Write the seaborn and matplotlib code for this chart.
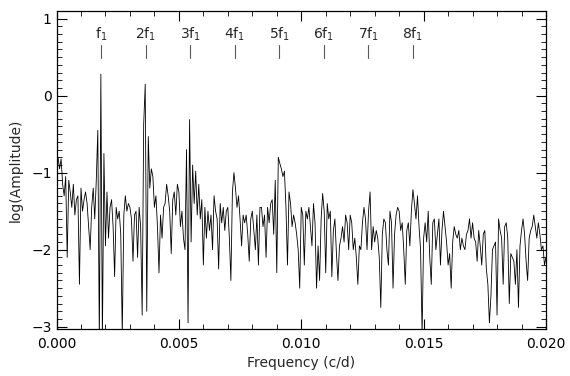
import numpy as np
import matplotlib
matplotlib.use("Agg")
import matplotlib.pyplot as plt
from matplotlib.ticker import MultipleLocator
import seaborn as sns

# log(Amplitude), one row per 0.001 c/d (16 samples each)
amp_rows = [
    [-0.85, -0.80, -0.95, -0.82, -1.15, -1.30, -1.05, -2.10, -1.10, -1.25, -1.45, -1.15, -1.55, -1.35, -1.30, -2.45],
    [-1.20, -1.50, -1.35, -1.25, -1.40, -1.70, -2.00, -1.45, -1.20, -1.60, -1.10, -0.45, -3.20, 0.28, -3.20, -0.75],
    [-1.95, -1.25, -1.85, -1.45, -1.35, -1.70, -2.35, -1.45, -1.60, -1.50, -1.80, -3.10, -1.55, -1.30, -1.50, -1.40],
    [-1.45, -1.60, -2.15, -1.55, -1.50, -2.10, -1.45, -1.70, -2.85, -0.37, 0.15, -2.80, -0.53, -1.20, -0.95, -1.05],
    [-1.45, -1.30, -1.70, -2.30, -1.55, -1.85, -1.45, -1.40, -1.15, -1.30, -1.50, -2.05, -1.35, -1.25, -1.55, -1.15],
    [-1.25, -1.70, -1.50, -1.85, -2.00, -0.70, -2.95, -0.31, -1.90, -0.90, -1.40, -0.98, -1.55, -1.15, -1.60, -1.35],
    [-2.20, -1.45, -1.85, -1.50, -1.75, -1.55, -2.00, -1.30, -1.50, -1.60, -2.25, -1.40, -1.65, -1.45, -1.75, -1.50],
    [-1.45, -1.85, -2.40, -1.25, -1.00, -1.20, -1.45, -1.30, -1.60, -1.95, -1.55, -1.65, -1.55, -1.80, -2.15, -1.60],
    [-1.50, -1.75, -2.00, -1.55, -2.20, -1.45, -1.45, -1.70, -1.55, -2.10, -1.45, -1.65, -1.40, -1.35, -1.80, -1.10],
    [-2.30, -0.80, -0.88, -0.95, -1.05, -0.98, -1.45, -2.20, -1.25, -1.40, -1.70, -1.55, -1.65, -1.80, -2.00, -2.50],
    [-1.45, -1.55, -2.20, -1.50, -1.60, -1.45, -1.70, -1.95, -1.40, -1.65, -2.50, -1.95, -2.40, -1.60, -1.27, -1.50],
    [-2.30, -1.40, -1.60, -1.50, -2.35, -1.75, -1.60, -2.05, -2.40, -1.95, -1.85, -1.70, -1.90, -1.55, -1.65, -2.00],
    [-1.55, -1.65, -2.00, -1.85, -2.10, -2.45, -1.95, -2.00, -1.65, -1.45, -1.60, -2.00, -1.50, -1.25, -2.00, -1.70],
    [-1.90, -1.75, -1.85, -2.10, -2.75, -1.80, -1.60, -1.65, -2.00, -2.20, -1.50, -1.65, -2.50, -1.80, -1.55, -1.45],
    [-1.50, -1.75, -1.65, -2.00, -2.45, -1.75, -1.65, -1.95, -1.50, -1.22, -1.40, -1.60, -1.30, -1.70, -2.00, -3.10],
    [-1.85, -1.65, -1.90, -1.50, -2.10, -2.45, -1.65, -1.60, -2.00, -1.80, -1.60, -2.20, -1.75, -1.50, -1.70, -1.90],
    [-2.20, -2.05, -2.50, -1.90, -1.70, -1.80, -1.85, -1.75, -2.00, -1.85, -1.95, -2.00, -1.80, -1.75, -1.60, -1.85],
    [-1.65, -1.85, -1.90, -2.15, -1.75, -1.95, -2.20, -1.80, -1.75, -2.25, -2.45, -2.95, -2.60, -2.00, -1.95, -1.90],
    [-2.85, -1.60, -1.75, -1.85, -2.45, -1.70, -1.65, -1.85, -2.70, -2.05, -2.10, -2.15, -2.45, -2.00, -2.75, -1.95],
    [-1.75, -1.60, -1.80, -2.15, -2.40, -1.85, -1.75, -1.70, -1.55, -1.70, -1.85, -1.65, -1.80, -2.00, -1.95, -2.20],
    [-2.10],
]
amp = np.concatenate([np.array(r) for r in amp_rows])
freq = np.arange(len(amp)) * 0.0000625

f1 = 0.00182
harmonics = [1, 2, 3, 4, 5, 6, 7, 8]
harm_labels = ["f$_1$", "2f$_1$", "3f$_1$", "4f$_1$", "5f$_1$", "6f$_1$", "7f$_1$", "8f$_1$"]

sns.set_style("ticks")
plt.rcParams["font.family"] = ["DejaVu Sans"]

fig = plt.figure(figsize=(5.7, 3.76), dpi=100)
ax = fig.add_axes([56.5 / 570, 47 / 376, 489.5 / 570, 318 / 376])

sns.lineplot(x=freq, y=amp, ax=ax, color="black", linewidth=0.6,
             estimator=None, sort=False)

for k, lab in zip(harmonics, harm_labels):
    ax.plot([k * f1, k * f1], [0.49, 0.66], color="0.35", lw=0.8)
    ax.text(k * f1, 0.80, lab, ha="center", va="center", fontsize=10)

ax.set_xlim(0, 0.02)
ax.set_ylim(-3.03, 1.1)
ax.xaxis.set_major_locator(MultipleLocator(0.005))
ax.xaxis.set_minor_locator(MultipleLocator(0.001))
ax.yaxis.set_major_locator(MultipleLocator(1))
ax.yaxis.set_minor_locator(MultipleLocator(0.1))
ax.xaxis.set_major_formatter(matplotlib.ticker.FormatStrFormatter("%.3f"))
ax.tick_params(which="both", direction="in", top=True, right=True, colors="black",
               labelsize=10)
ax.tick_params(which="major", length=7, width=0.8)
ax.tick_params(which="minor", length=3.5, width=0.6)
ax.tick_params(axis="x", pad=6)
for s in ax.spines.values():
    s.set_color("black")
    s.set_linewidth(0.9)

ax.set_xlabel("Frequency (c/d)", fontsize=10, labelpad=3)
ax.set_ylabel("log(Amplitude)", fontsize=10, labelpad=6)

fig.savefig("out.png", dpi=100)
